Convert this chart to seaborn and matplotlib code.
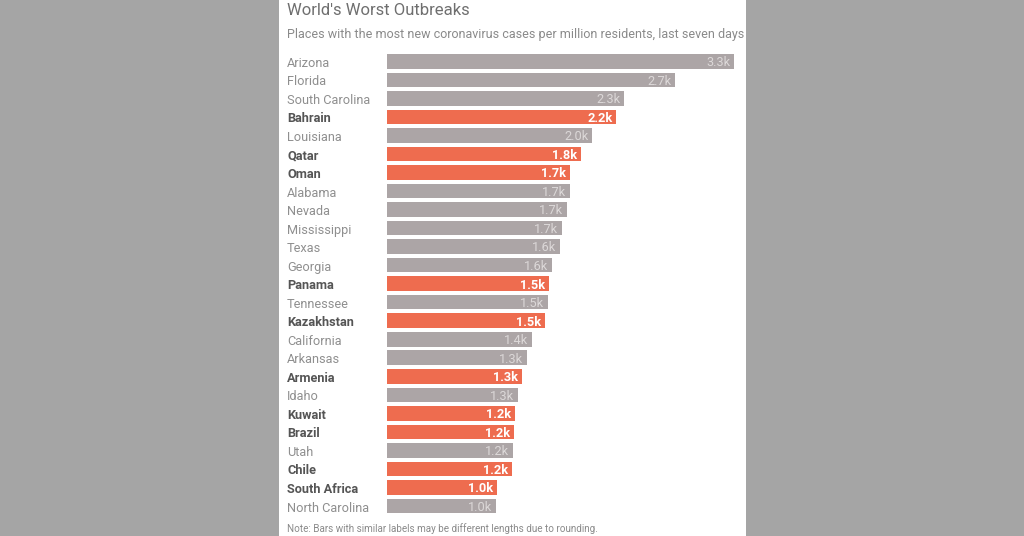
import matplotlib
matplotlib.use("Agg")
import matplotlib.pyplot as plt
import pandas as pd
import seaborn as sns
from matplotlib.patches import Rectangle
from matplotlib.transforms import ScaledTranslation

places = ["Arizona", "Florida", "South Carolina", "Bahrain", "Louisiana", "Qatar", "Oman",
          "Alabama", "Nevada", "Mississippi", "Texas", "Georgia", "Panama", "Tennessee",
          "Kazakhstan", "California", "Arkansas", "Armenia", "Idaho", "Kuwait", "Brazil",
          "Utah", "Chile", "South Africa", "North Carolina"]
cases = [3.30, 2.74, 2.25, 2.18, 1.95, 1.845, 1.74, 1.737, 1.71, 1.664, 1.645, 1.57, 1.54,
         1.53, 1.50, 1.38, 1.33, 1.28, 1.246, 1.217, 1.208, 1.198, 1.189, 1.046, 1.037]
labels = ["3.3k", "2.7k", "2.3k", "2.2k", "2.0k", "1.8k", "1.7k", "1.7k", "1.7k", "1.7k",
          "1.6k", "1.6k", "1.5k", "1.5k", "1.5k", "1.4k", "1.3k", "1.3k", "1.3k", "1.2k",
          "1.2k", "1.2k", "1.2k", "1.0k", "1.0k"]
countries = ["Bahrain", "Qatar", "Oman", "Panama", "Kazakhstan", "Armenia", "Kuwait",
             "Brazil", "Chile", "South Africa"]

W, H = 1024, 536
GREY = "#aca5a6"
ORANGE = "#ee6c4f"

df = pd.DataFrame({"place": places, "cases": cases})
df["kind"] = ["country" if p in countries else "state" for p in places]

sns.set_theme(style="white")
plt.rcParams["font.family"] = ["Roboto", "DejaVu Sans"]

fig = plt.figure(figsize=(W / 100, H / 100), dpi=100, facecolor="#a5a5a5")
fig.add_artist(Rectangle((279 / W, 0), 467 / W, 1, transform=fig.transFigure,
                         facecolor="white", edgecolor="none", zorder=-1))

# rows run 18.53px apart, first centre at y=61.3
top = 61.3 - 18.53 / 2
bottom = 506 + 18.53 / 2
ax = fig.add_axes([387 / W, 1 - bottom / H, 347 / W, (bottom - top) / H])
ax.patch.set_alpha(0)

sns.barplot(data=df, x="cases", y="place", hue="kind", dodge=False, legend=False,
            palette={"country": ORANGE, "state": GREY}, width=0.79, saturation=1,
            linewidth=0, ax=ax)

ax.set_xlim(0, 3.3)
ax.set_ylim(len(places) - 0.5, -0.5)
ax.set_xticks([])
ax.set_xlabel("")
ax.set_ylabel("")
sns.despine(ax=ax, left=True, bottom=True)

# names sit left aligned at x=287, 100px left of the bars, just under the bar centre
ax.set_yticks(range(len(places)))
ax.set_yticklabels(places)
ax.tick_params(axis="y", length=0, pad=100 * 0.72)
nudge = ScaledTranslation(0, -0.4 / 72, fig.dpi_scale_trans)
for tick, place in zip(ax.get_yticklabels(), places):
    bold = place in countries
    tick.set_ha("left")
    tick.set_fontsize(9.2)
    tick.set_fontweight("bold" if bold else "normal")
    tick.set_color("#555555" if bold else "#8f8f8f")
    tick.set_transform(tick.get_transform() + nudge)

for i, (val, lab, place) in enumerate(zip(cases, labels, places)):
    bold = place in countries
    ax.annotate(lab, (val, i), xytext=(-2.5, -1), textcoords="offset points", ha="right",
                va="center", fontsize=9.2, color="white" if bold else "#dcd8d8",
                fontweight="bold" if bold else "normal")

fig.text(287 / W, 1 - 10.5 / H, "World's Worst Outbreaks", fontsize=12, color="#6f6f6f", va="center")
fig.text(287 / W, 1 - 34.5 / H, "Places with the most new coronavirus cases per million residents, last seven days",
         fontsize=9.04, color="#8a8a8a", va="center")
fig.text(287 / W, 1 - 528.7 / H, "Note: Bars with similar labels may be different lengths due to rounding.",
         fontsize=7.1, color="#8a8a8a", va="center")

fig.savefig("out.png", dpi=100, facecolor=fig.get_facecolor())
